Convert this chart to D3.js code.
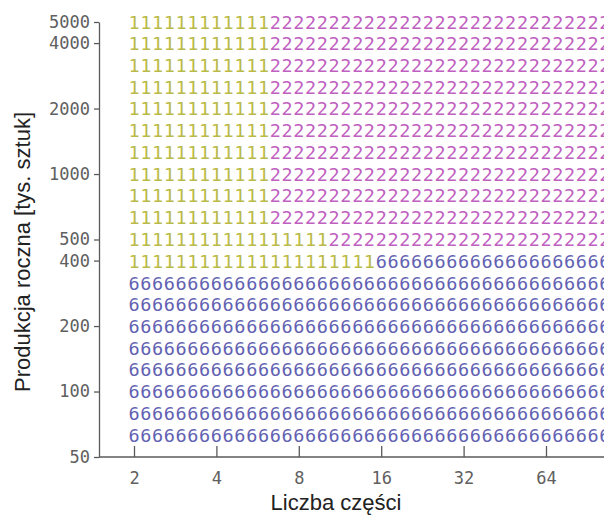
<!DOCTYPE html>
<html>
<head>
<meta charset="utf-8">
<script src="https://cdn.jsdelivr.net/npm/d3@7/dist/d3.min.js"></script>
<style>
  html, body { margin: 0; padding: 0; background: #fff; overflow: hidden; }
  svg { display: block; }
</style>
</head>
<body>
<script>
// ---- Data ----
// Number of parts (x grid, log2 spaced columns)
const partCounts = [2, 2.208, 2.438, 2.692, 2.972, 3.281, 3.623, 4, 4.416, 4.876, 5.384, 5.944, 6.563, 7.246,
  8, 8.833, 9.752, 10.77, 11.89, 13.13, 14.49, 16, 17.67, 19.50, 21.54, 23.78, 26.25, 28.98,
  32, 35.33, 39.01, 43.07, 47.55, 52.50, 57.97, 64, 70.66, 78.02, 86.14, 95.10, 105.0];
// Annual production [thousand pieces] (y grid rows, log spaced)
const production = [63, 79, 100, 126, 158, 200, 251, 316, 398, 500, 631, 794, 1000, 1259, 1585, 1995, 2512, 3162, 3981, 5000];
// Per row: number of leading columns using method 1, and method used after that
const method1Columns = [0, 0, 0, 0, 0, 0, 0, 0, 21, 17, 12, 12, 12, 12, 12, 12, 12, 12, 12, 12];
const otherMethod = [6, 6, 6, 6, 6, 6, 6, 6, 6, 2, 2, 2, 2, 2, 2, 2, 2, 2, 2, 2];
const firstMethod = 1;
// Tick labels
const xTicks = [2, 4, 8, 16, 32, 64];
const yTicks = [50, 100, 200, 400, 500, 1000, 2000, 4000, 5000];
const methodColors = { 1: "#baba48", 2: "#c060c0", 6: "#6262b2" };

// ---- Layout ----
const W = 604, H = 518;
const svg = d3.select("body").append("svg").attr("width", W).attr("height", H);

const x = d3.scaleLog().base(2).domain([2, 64]).range([134, 546]);
const y = d3.scaleLog().domain([50, 5000]).range([457, 22]);

// cells
const cells = [];
production.forEach((p, r) => {
  partCounts.forEach((n, c) => {
    cells.push({ n, p, m: c < method1Columns[r] ? firstMethod : otherMethod[r] });
  });
});

svg.append("g")
  .selectAll("text")
  .data(cells)
  .join("text")
  .attr("x", d => x(d.n))
  .attr("y", d => y(d.p))
  .attr("dy", "0.36em")
  .attr("text-anchor", "middle")
  .attr("font-family", "'DejaVu Sans Mono', monospace")
  .attr("font-size", 18.5)
  .attr("fill", d => methodColors[d.m])
  .text(d => d.m);

// axes
const axisColor = "#5a5a5a";
const labelColor = "#606060";
const xAxis = svg.append("g")
  .attr("transform", `translate(0,457)`)
  .call(d3.axisTop(x).tickValues(xTicks).tickFormat(d3.format("d")).tickSize(11).tickSizeOuter(0));
xAxis.select(".domain").remove();
xAxis.append("line").attr("x1", 99).attr("x2", W + 5).attr("y1", 0).attr("y2", 0)
  .attr("stroke", axisColor).attr("stroke-width", 1.3);
xAxis.selectAll(".tick line").attr("stroke", axisColor).attr("stroke-width", 1.3);
xAxis.selectAll(".tick text")
  .attr("y", 21).attr("dy", "0.36em")
  .attr("fill", labelColor)
  .attr("font-family", "'DejaVu Sans Mono', monospace")
  .attr("font-size", 17);

const yAxis = svg.append("g")
  .attr("transform", `translate(99,0)`)
  .call(d3.axisLeft(y).tickValues(yTicks).tickFormat(d3.format("d")).tickSize(5).tickPadding(4).tickSizeOuter(0));
yAxis.select(".domain").attr("stroke", axisColor).attr("stroke-width", 1.3);
yAxis.selectAll(".tick line").attr("stroke", axisColor).attr("stroke-width", 1.3);
yAxis.selectAll(".tick text")
  .attr("fill", labelColor)
  .attr("font-family", "'DejaVu Sans Mono', monospace")
  .attr("font-size", 17);

// titles
svg.append("text")
  .attr("x", 336).attr("y", 510)
  .attr("text-anchor", "middle")
  .attr("font-family", "'Liberation Sans', Arial, sans-serif")
  .attr("font-size", 22)
  .attr("fill", "#222")
  .text("Liczba części");

svg.append("text")
  .attr("transform", "translate(30,252) rotate(-90)")
  .attr("text-anchor", "middle")
  .attr("font-family", "'Liberation Sans', Arial, sans-serif")
  .attr("font-size", 22)
  .attr("fill", "#222")
  .text("Produkcja roczna [tys. sztuk]");
</script>
</body>
</html>
